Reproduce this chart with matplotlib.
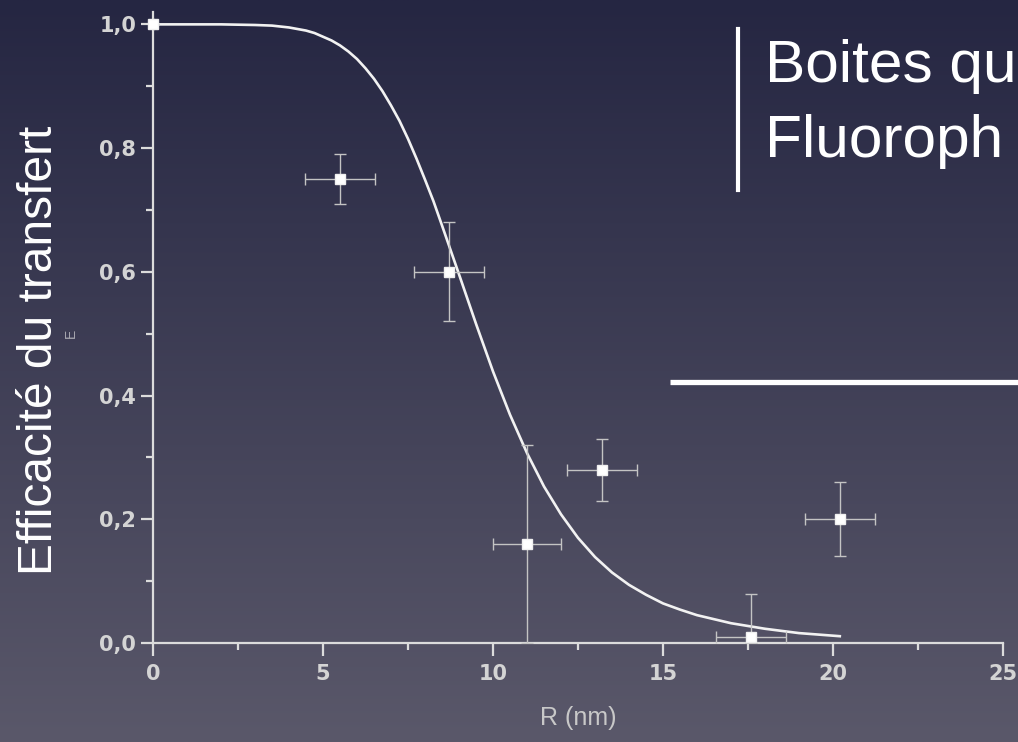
import numpy as np
import matplotlib
matplotlib.use("Agg")
import matplotlib.pyplot as plt
from matplotlib.ticker import MultipleLocator, FuncFormatter

# ---- data ----
r_points = [0.0, 5.5, 8.7, 11.0, 13.2, 17.6, 20.2]
e_points = [1.0, 0.75, 0.60, 0.16, 0.28, 0.01, 0.20]
r_err = [0.0, 1.03, 1.03, 1.0, 1.03, 1.03, 1.03]
e_err_low = [0.0, 0.04, 0.08, 0.16, 0.05, 0.01, 0.06]
e_err_high = [0.0, 0.04, 0.08, 0.16, 0.05, 0.07, 0.06]

fit_r = [0, 1, 2, 3, 3.5, 4, 4.5, 4.75, 5, 5.25, 5.5, 5.75, 6, 6.25, 6.5, 6.75,
         7, 7.25, 7.5, 7.75, 8, 8.25, 8.5, 9, 9.5, 10, 10.5, 11, 11.5, 12, 12.5,
         13, 13.5, 14, 14.5, 15, 15.5, 16, 17, 18, 19, 20.2]
fit_e = [1.0, 1.0, 1.0, 0.999, 0.998, 0.995, 0.990, 0.986, 0.980, 0.974, 0.966,
         0.956, 0.944, 0.929, 0.912, 0.892, 0.869, 0.844, 0.815, 0.783, 0.749,
         0.714, 0.675, 0.596, 0.516, 0.439, 0.369, 0.307, 0.253, 0.208, 0.170,
         0.139, 0.114, 0.094, 0.078, 0.064, 0.054, 0.045, 0.032, 0.023, 0.016,
         0.011]

x_ticks = [0, 5, 10, 15, 20, 25]
y_ticks = [0.0, 0.2, 0.4, 0.6, 0.8, 1.0]

title_lines = ["Boites qu", "Fluoroph"]
y_label = "Efficacité du transfert"
x_label = "R (nm)"

W, H = 1018, 742
fig = plt.figure(figsize=(W / 100, H / 100), dpi=100)

# background gradient
bg = fig.add_axes([0, 0, 1, 1], zorder=-10)
top = np.array([37, 38, 66]) / 255
bot = np.array([90, 88, 106]) / 255
t = np.linspace(0, 1, 256)[:, None]
grad = top[None, :] * (1 - t) + bot[None, :] * t
img = np.repeat(grad[:, None, :], 2, axis=1)
bg.imshow(img, aspect="auto", extent=[0, 1, 0, 1], origin="upper")
bg.set_xlim(0, 1)
bg.set_ylim(0, 1)
bg.axis("off")

# main axes
x0, x1 = 153, 1003
y0, ytop = 643, 12
ax = fig.add_axes([x0 / W, (H - y0) / H, (x1 - x0) / W, (y0 - ytop) / H])
ax.set_facecolor("none")
ax.set_xlim(0, 25)
ax.set_ylim(0, 1.02)

axis_col = "#dcdcdc"
for s in ["top", "right"]:
    ax.spines[s].set_visible(False)
for s in ["left", "bottom"]:
    ax.spines[s].set_color(axis_col)
    ax.spines[s].set_linewidth(1.6)

ax.set_xticks(x_ticks)
ax.set_yticks(y_ticks)
ax.xaxis.set_minor_locator(MultipleLocator(2.5))
ax.yaxis.set_minor_locator(MultipleLocator(0.1))
ax.xaxis.set_major_formatter(FuncFormatter(lambda v, p: f"{v:.0f}"))
ax.yaxis.set_major_formatter(FuncFormatter(lambda v, p: f"{v:.1f}".replace(".", ",")))
ax.tick_params(which="major", direction="out", length=9, width=1.6, color=axis_col,
               labelcolor="#d4d4d4", labelsize=15)
ax.tick_params(which="minor", direction="out", length=5, width=1.6, color=axis_col)
ax.tick_params(axis="x", which="major", pad=6)
ax.tick_params(axis="y", which="major", pad=3)
for lab in ax.get_xticklabels() + ax.get_yticklabels():
    lab.set_fontweight("bold")
    lab.set_family("DejaVu Sans")

# fit curve
ax.plot(fit_r, fit_e, color="#f2f2f2", lw=1.9, zorder=3, clip_on=False)

# error bars + markers
ax.errorbar(r_points, e_points, xerr=r_err, yerr=[e_err_low, e_err_high],
            fmt="none", ecolor="#c4c4c4", elinewidth=1.0, capsize=4.5,
            capthick=1.0, zorder=4)
ax.plot(r_points, e_points, "s", color="white", markersize=7.5,
        markeredgecolor="#f0f0f0", zorder=5, clip_on=False)

ax.set_xlabel(x_label, color="#c8c8c8", fontsize=18, family="Liberation Sans",
              labelpad=16)

# big y label (overlay)
fig.text(40 / W, 1 - 350 / H, y_label, rotation=90, color="white",
         fontsize=34.5, family="Liberation Sans", ha="center", va="center")
# faint original axis symbol
fig.text(71 / W, 1 - 333 / H, "E", rotation=90, color="#a8a8b0",
         fontsize=10, family="Liberation Sans", ha="center", va="center")

# title block at top right
fig.text(765 / W, 1 - 82 / H, title_lines[0], color="white", fontsize=43.5,
         family="Liberation Sans", ha="left", va="baseline")
fig.text(765 / W, 1 - 157 / H, title_lines[1], color="white", fontsize=43.5,
         family="Liberation Sans", ha="left", va="baseline")
fig.add_artist(plt.Line2D([738 / W, 738 / W], [1 - 29 / H, 1 - 190 / H],
                          color="white", lw=3, transform=fig.transFigure))
fig.add_artist(plt.Line2D([670 / W, 1.0], [1 - 382 / H, 1 - 382 / H],
                          color="white", lw=3.8, transform=fig.transFigure,
                          solid_capstyle="butt"))

fig.savefig("out.png", dpi=100)
